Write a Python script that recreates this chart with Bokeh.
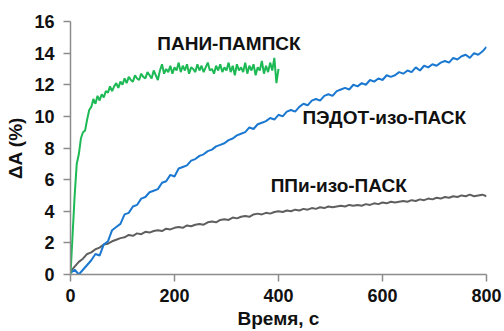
from bokeh.plotting import figure
from bokeh.embed import file_html
from bokeh.resources import INLINE
from bokeh.models import FixedTicker, Range1d
from bokeh.core.properties import value

# ---- data ----
green_t = list(range(0, 401, 4))
green_y = [0.0, 2.5, 5.0, 7.0, 7.6, 8.6, 9.0, 9.1, 9.8, 10.4, 10.6, 11.1, 10.8, 11.3, 11.0, 11.4,
           11.2, 11.6, 11.5, 11.9, 11.6, 11.9, 12.1, 11.8, 12.2, 12.0, 12.4, 12.1, 12.5, 12.3, 12.2,
           12.6, 12.4, 12.3, 12.7, 12.5, 12.4, 12.8, 12.6, 12.4, 12.9, 12.6, 12.3, 12.9, 13.3, 12.7,
           13.0, 12.8, 13.2, 12.7, 13.1, 12.9, 13.4, 12.8, 13.2, 12.9, 13.3, 12.7, 13.1, 13.0, 12.8,
           13.3, 12.9, 13.2, 12.8, 13.1, 13.4, 12.9, 13.0, 12.7, 13.2, 12.9, 13.3, 12.8, 13.1, 12.9,
           13.4, 12.8, 13.2, 12.6, 13.3, 12.9, 13.1, 12.8, 13.4, 12.7, 13.2, 12.9, 13.3, 12.6, 13.1,
           12.9, 13.5, 12.7, 13.2, 12.8, 13.4, 12.9, 13.7, 12.1, 13.0]

blue_t = list(range(0, 801, 8))
blue_y = [0.1, 0.3, 0.0, 0.3, 0.6, 0.9, 1.3, 1.2, 1.9, 2.1, 2.8, 3.0, 3.2, 3.8, 3.9, 4.3, 4.4, 4.8,
          4.9, 5.2, 5.3, 5.4, 5.8, 5.9, 6.3, 6.2, 6.7, 6.8, 6.9, 7.2, 7.3, 7.5, 7.6, 7.8, 7.9, 8.1,
          8.2, 8.3, 8.5, 8.6, 8.8, 8.9, 9.0, 9.3, 9.2, 9.5, 9.6, 9.7, 9.9, 9.8, 10.1, 10.0, 10.3,
          10.4, 10.3, 10.6, 10.8, 10.7, 11.0, 11.1, 11.0, 11.3, 11.4, 11.3, 11.6, 11.7, 11.8, 11.7,
          12.0, 11.9, 12.1, 12.0, 12.3, 12.2, 12.4, 12.3, 12.6, 12.5, 12.6, 12.8, 12.7, 12.9, 12.8,
          13.1, 12.9, 13.2, 13.1, 13.3, 13.2, 13.4, 13.5, 13.4, 13.7, 13.6, 13.8, 13.9, 13.7, 14.0,
          13.9, 14.1, 14.4]

grey_t = list(range(0, 801, 8))
grey_y = [0.2, 0.5, 0.8, 1.0, 1.3, 1.4, 1.6, 1.7, 1.9, 1.95, 2.1, 2.2, 2.3, 2.35, 2.5, 2.45, 2.6,
          2.55, 2.7, 2.65, 2.75, 2.8, 2.75, 2.9, 2.85, 2.95, 3.0, 2.95, 3.1, 3.05, 3.15, 3.2, 3.15,
          3.3, 3.35, 3.3, 3.45, 3.5, 3.45, 3.6, 3.55, 3.65, 3.7, 3.65, 3.8, 3.85, 3.8, 3.9, 3.85,
          3.95, 4.0, 3.95, 4.05, 4.0, 4.1, 4.05, 4.15, 4.1, 4.2, 4.15, 4.25, 4.2, 4.3, 4.25, 4.3,
          4.35, 4.3, 4.4, 4.35, 4.4, 4.35, 4.45, 4.4, 4.5, 4.45, 4.55, 4.5, 4.6, 4.55, 4.6, 4.65,
          4.6, 4.7, 4.65, 4.75, 4.7, 4.8, 4.75, 4.85, 4.8, 4.9, 4.85, 4.95, 4.9, 5.0, 4.95, 5.05,
          4.95, 5.0, 5.05, 4.95]

x_ticks = [0, 200, 400, 600, 800]
y_ticks = [0, 2, 4, 6, 8, 10, 12, 14, 16]

labels = ["ПАНИ-ПАМПСК", "ПЭДОТ-изо-ПАСК", "ППи-изо-ПАСК"]
label_x = [167, 446, 385]
label_y = [14.6, 9.9, 5.6]

FONT = "Liberation Sans"

p = figure(width=504, height=331, output_backend="svg", toolbar_location=None,
           x_range=Range1d(0, 800), y_range=Range1d(0, 16),
           min_border_left=70, min_border_right=18, min_border_top=21, min_border_bottom=57)
p.outline_line_color = None
p.grid.visible = False

p.line(grey_t, grey_y, line_color="#5f5f5f", line_width=2)
p.line(blue_t, blue_y, line_color="#1b78d0", line_width=2)
p.line(green_t, green_y, line_color="#1db954", line_width=2)

p.text(x=label_x, y=label_y, text=labels, text_font=value(FONT), text_font_style="bold",
       text_font_size="19px", text_align="left", text_baseline="middle", text_color="#111111")

for ax, ticks in ((p.xaxis[0], x_ticks), (p.yaxis[0], y_ticks)):
    ax.ticker = FixedTicker(ticks=ticks)
    ax.minor_tick_line_color = None
    ax.major_tick_in = 0
    ax.major_tick_out = 7
    ax.axis_line_color = "#8c8c8c"
    ax.axis_line_width = 1.5
    ax.major_tick_line_color = "#8c8c8c"
    ax.major_tick_line_width = 1.5
    ax.major_label_text_font = FONT
    ax.major_label_text_font_style = "bold"
    ax.major_label_text_font_size = "18px"
    ax.major_label_text_color = "#111111"
    ax.axis_label_text_font = FONT
    ax.axis_label_text_font_style = "bold"
    ax.axis_label_text_font_size = "19px"
    ax.axis_label_text_color = "#111111"

p.xaxis.axis_label = "Время, с"
p.yaxis.axis_label = "ΔA (%)"
p.xaxis.major_label_standoff = 7
p.xaxis.axis_label_standoff = 3
p.yaxis.major_label_standoff = 9
p.yaxis.axis_label_standoff = 5

open("out.html", "w").write(file_html(p, INLINE))
